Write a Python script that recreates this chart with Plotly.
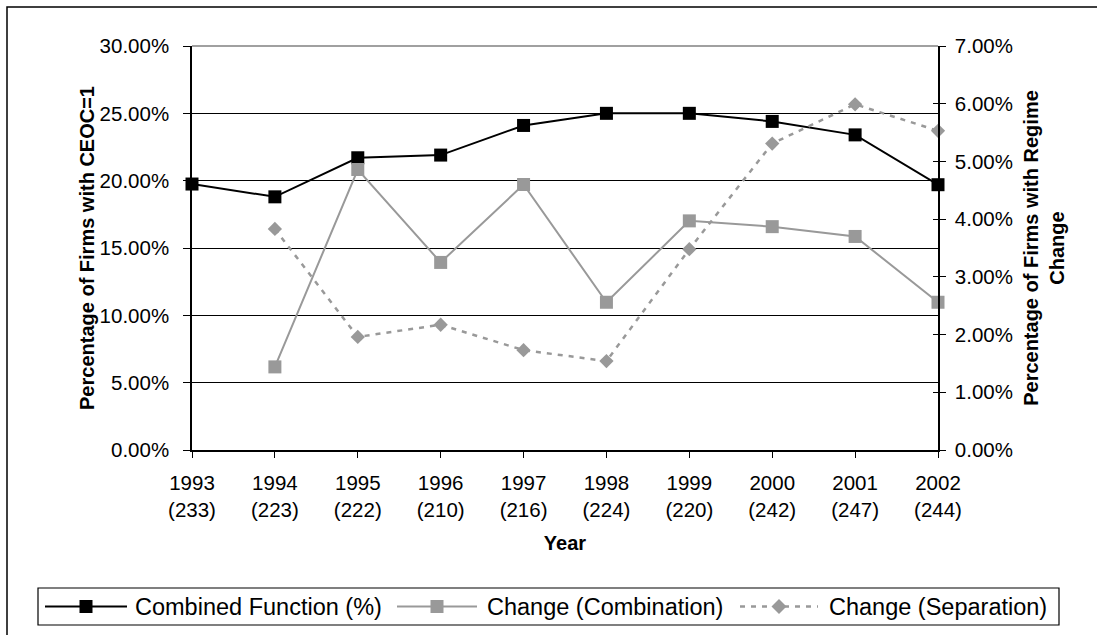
import plotly.graph_objects as go

# ---- data ----
years = ["1993", "1994", "1995", "1996", "1997", "1998", "1999", "2000", "2001", "2002"]
firm_counts = ["233", "223", "222", "210", "216", "224", "220", "242", "247", "244"]
combined_function = [0.1975, 0.188, 0.217, 0.219, 0.241, 0.250, 0.250, 0.244, 0.234, 0.197]
change_combination = [None, 0.0144, 0.0486, 0.0325, 0.0460, 0.0256, 0.0397, 0.0387, 0.0370, 0.0256]
change_separation = [None, 0.0383, 0.0196, 0.0217, 0.0173, 0.0154, 0.0348, 0.0531, 0.0599, 0.0553]
series_names = ["Combined Function (%)", "Change (Combination)", "Change (Separation)"]

categories = [f"{y}<br>({n})" for y, n in zip(years, firm_counts)]

FONT = "Liberation Sans, Arial, sans-serif"
GRAY = "#999999"

# layout geometry (pixels)
FIG_W, FIG_H = 1097, 635
ML, MR, MT, MB = 192, 159, 46, 185
PW = FIG_W - ML - MR
PH = FIG_H - MT - MB


def px_x(px):
    return (px - ML) / PW


def px_y(py):
    return (FIG_H - MB - py) / PH


fig = go.Figure()
fig.add_trace(go.Scatter(
    x=categories, y=combined_function, name=series_names[0], yaxis="y",
    mode="lines+markers", line=dict(color="black", width=2),
    marker=dict(symbol="square", size=13, color="black"), cliponaxis=False,
    showlegend=False))
fig.add_trace(go.Scatter(
    x=categories, y=change_combination, name=series_names[1], yaxis="y2",
    mode="lines+markers", line=dict(color=GRAY, width=2),
    marker=dict(symbol="square", size=13, color=GRAY), cliponaxis=False,
    showlegend=False))
fig.add_trace(go.Scatter(
    x=categories, y=change_separation, name=series_names[2], yaxis="y2",
    mode="lines+markers", line=dict(color=GRAY, width=2.5, dash="5px,6px"),
    marker=dict(symbol="diamond", size=11, color=GRAY), cliponaxis=False,
    showlegend=False))
# empty helper trace so the inner tick marks of the right axis get drawn
fig.add_trace(go.Scatter(x=[], y=[], yaxis="y3", showlegend=False, hoverinfo="skip"))

tickfont = dict(family=FONT, size=20.5, color="black")
titlefont = dict(family=FONT, size=20, color="black", weight="bold")

fig.update_layout(
    width=FIG_W, height=FIG_H,
    margin=dict(l=ML, r=MR, t=MT, b=MB, autoexpand=False),
    paper_bgcolor="white", plot_bgcolor="white",
    font=dict(family=FONT, color="black"),
    showlegend=False,
    xaxis=dict(
        type="category", range=[0, 9], showgrid=False, zeroline=False,
        showline=True, linecolor="black", linewidth=1.5,
        ticks="outside", ticklen=6, tickcolor="black", tickwidth=1,
        tickfont=tickfont, ticklabelstandoff=8,
        title=dict(text="Year", font=titlefont, standoff=16),
    ),
    yaxis=dict(
        range=[0, 0.30], dtick=0.05, tick0=0, tickformat=".2%",
        showgrid=True, gridcolor="black", gridwidth=1, zeroline=False,
        showline=True, linecolor="black", linewidth=1.5,
        ticks="outside", ticklen=7, tickcolor="black",
        tickfont=tickfont, ticklabelstandoff=10,
        title=dict(text="Percentage of Firms with CEOC=1", font=titlefont, standoff=0),
    ),
    yaxis2=dict(
        overlaying="y", side="right", anchor="x",
        range=[0, 0.07], dtick=0.01, tick0=0, tickformat=".2%",
        showgrid=False, zeroline=False,
        showline=True, linecolor="black", linewidth=1.5,
        ticks="outside", ticklen=6, tickcolor="black",
        tickfont=tickfont, ticklabelstandoff=5,
        title=dict(text="Percentage of Firms with Regime<br>Change", font=titlefont, standoff=12),
    ),
    yaxis3=dict(
        overlaying="y", side="right", anchor="x",
        range=[0, 0.07], dtick=0.01, tick0=0,
        showgrid=False, zeroline=False, showline=False,
        ticks="inside", ticklen=5, tickcolor="black", showticklabels=False,
    ),
)

shapes = []
# outer chart border (clipped by the image at right/bottom)
shapes.append(dict(type="rect", xref="paper", yref="paper",
                   x0=px_x(7), x1=px_x(1105), y0=px_y(645), y1=px_y(7),
                   line=dict(color="black", width=1.5), fillcolor="rgba(0,0,0,0)", layer="below"))
# top edge of plot area
shapes.append(dict(type="line", xref="paper", yref="paper", x0=0, x1=1, y0=1, y1=1,
                   line=dict(color="#808080", width=1.5)))

# manual legend box
shapes.append(dict(type="rect", xref="paper", yref="paper",
                   x0=px_x(38), x1=px_x(1059), y0=px_y(625), y1=px_y(588),
                   line=dict(color="black", width=1.2), fillcolor="white"))
LEG_Y = 606.5
entries = [
    dict(x0=45, x1=127, color="black", dash="solid", symbol="square", text_x=133),
    dict(x0=397, x1=477, color=GRAY, dash="solid", symbol="square", text_x=485),
    dict(x0=740, x1=818, color=GRAY, dash="5px,6px", symbol="diamond", text_x=827),
]
annotations = []
for name, e in zip(series_names, entries):
    shapes.append(dict(type="line", xref="paper", yref="paper",
                       x0=px_x(e["x0"]), x1=px_x(e["x1"]), y0=px_y(LEG_Y), y1=px_y(LEG_Y),
                       line=dict(color=e["color"], width=2.5 if e["dash"] != "solid" else 2,
                                 dash=e["dash"])))
    cx = (e["x0"] + e["x1"]) / 2
    if e["symbol"] == "square":
        shapes.append(dict(type="rect", xref="paper", yref="paper",
                           x0=px_x(cx - 6.5), x1=px_x(cx + 6.5),
                           y0=px_y(LEG_Y + 6.5), y1=px_y(LEG_Y - 6.5),
                           line=dict(width=0), fillcolor=e["color"]))
    else:
        r = 7.5
        path = (f"M {px_x(cx - r)} {px_y(LEG_Y)} L {px_x(cx)} {px_y(LEG_Y - r)} "
                f"L {px_x(cx + r)} {px_y(LEG_Y)} L {px_x(cx)} {px_y(LEG_Y + r)} Z")
        shapes.append(dict(type="path", xref="paper", yref="paper", path=path,
                           line=dict(width=0), fillcolor=e["color"]))
    annotations.append(dict(xref="paper", yref="paper", x=px_x(e["text_x"]), y=px_y(LEG_Y),
                            xanchor="left", yanchor="middle", showarrow=False, text=name,
                            font=dict(family=FONT, size=23.5, color="black")))

fig.update_layout(shapes=shapes, annotations=annotations)

fig.write_html("out.html", config={"displayModeBar": False},
               post_script="document.body.style.margin='0';document.body.style.overflow='hidden';")
